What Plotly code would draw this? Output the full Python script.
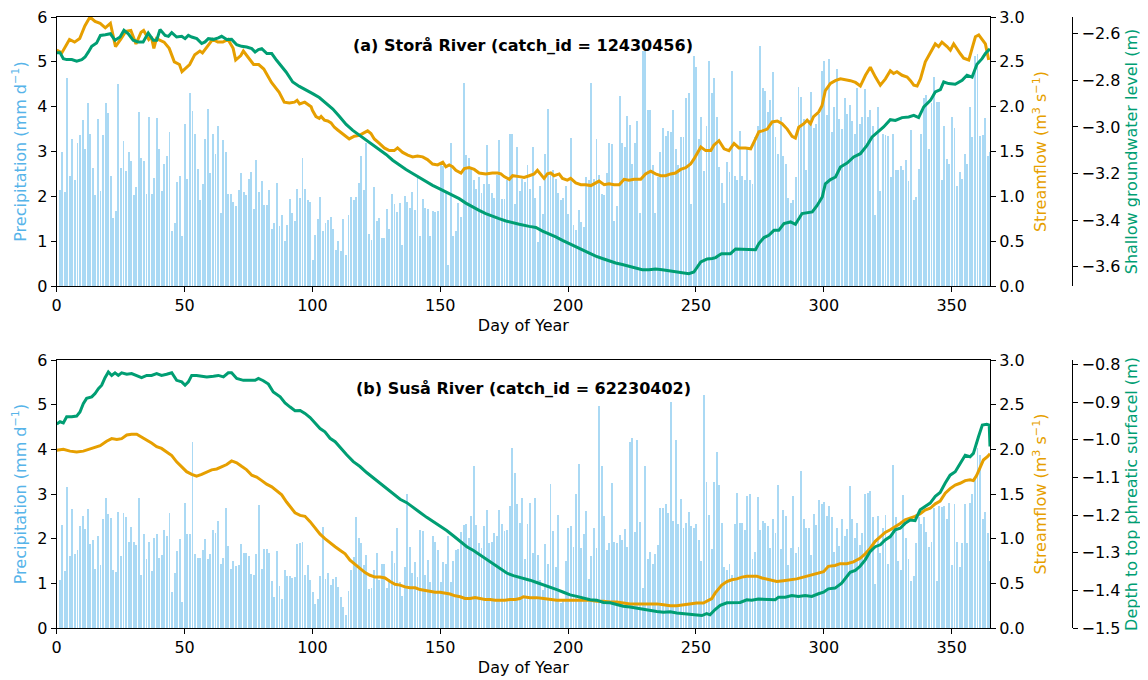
import plotly.graph_objects as go

# ---------------- data ----------------
precip_a = [
    2.15, 3.0, 2.1, 4.65, 2.45, 3.28, 2.37, 3.18, 3.37, 3.7,
    3.05, 4.08, 3.4, 2.63, 2.02, 3.73, 2.12, 3.37, 4.08, 3.86,
    2.45, 1.52, 1.67, 4.5, 2.63, 3.23, 2.57, 3.0, 2.78, 2.03,
    2.2, 3.87, 2.85, 2.78, 2.05, 3.78, 2.05, 2.4, 3.75, 3.05,
    2.12, 2.72, 2.9, 3.43, 1.22, 1.4, 2.33, 2.45, 1.12, 3.62,
    2.38, 4.3, 3.9, 3.4, 2.62, 1.92, 2.28, 3.28, 3.95, 2.52,
    3.4, 2.95, 3.58, 1.62, 3.25, 3.0, 2.05, 2.05, 1.87, 1.78,
    2.15, 2.52, 2.1, 2.02, 2.38, 2.55, 1.72, 2.8, 2.1, 2.35,
    1.8, 1.8, 2.15, 1.27, 1.4, 2.3, 1.33,
    1.58, 1.0, 1.37, 1.93, 1.63, 1.44, 2.17, 1.97, 2.85, 2.17,
    1.91, 1.88, 0.57, 1.13, 1.49, 1.98, 1.22, 1.41, 1.48, 1.55,
    1.28, 0.81, 1.0, 0.78, 1.49, 0.7, 1.59, 1.98, 1.91, 1.98,
    2.29, 2.9, 2.14, 3.2, 1.17, 1.03, 2.2, 1.44, 1.52, 1.06,
    1.06, 1.72, 1.28, 2.05, 1.83, 1.66, 1.85, 0.91, 2.01, 1.88,
    1.75, 2.1, 1.69, 2.42, 1.11, 1.94, 1.74, 1.71, 1.11, 1.67,
    1.65, 1.67, 2.72, 2.67, 2.07, 0.46, 3.2, 1.12, 1.22, 1.85,
    1.53, 4.52, 2.92, 2.85, 2.62, 2.36, 2.17, 2.44, 2.08, 2.28,
    3.14, 2.28, 2.07, 1.96, 2.48, 3.26, 1.93, 1.95, 2.36,
    3.38, 3.38,
    1.84, 3.09, 2.13, 2.39, 2.32, 2.71, 2.17, 3.09, 1.96, 0.98,
    2.24, 1.61, 2.95, 3.94, 2.47, 2.58, 2.39, 2.07, 1.91, 1.96,
    2.24, 1.61, 3.3, 1.35, 1.26, 1.69, 1.43, 1.31, 2.43, 2.36,
    4.53, 2.39, 3.29, 2.47, 2.06, 2.03, 2.51, 3.2, 3.16, 1.46,
    1.78, 4.23, 3.2, 3.09, 3.8, 3.6, 2.73, 3.2, 3.69, 1.63,
    5.24, 5.24, 3.92, 3.92, 2.71, 1.63, 2.43, 2.99, 3.52, 3.35,
    3.46, 3.44, 3.93, 3.06, 2.71, 3.32, 3.32, 4.19, 4.31, 1.84,
    5.14, 4.88, 3.29, 3.76, 2.57, 3.58, 5.02, 4.31, 4.63, 3.76,
    2.65, 2.3, 1.86, 2.77, 2.54, 4.8, 2.45, 2.37, 3.45, 2.46,
    2.37, 3.11,
    2.37, 2.28, 3.32, 3.58, 5.35, 4.42, 4.36, 3.88, 4.14, 4.77,
    3.32, 2.95, 3.78, 2.9, 2.73, 1.97, 1.85, 1.91, 2.43, 4.44,
    4.22, 3.73, 2.58, 3.7, 4.33, 3.53, 3.62, 3.84, 4.79, 5.01,
    3.82, 5.07, 3.43, 3.99, 4.85, 3.73, 3.51, 4.2, 3.83, 4.04,
    3.68, 3.38, 4.42, 3.62, 3.76, 4.4, 3.77, 3.93, 3.57, 1.58,
    3.99, 2.11, 3.38, 3.36, 3.34, 2.43, 3.4, 2.58, 2.58, 2.67,
    2.58, 2.82, 2.34, 3.47, 1.91, 1.98, 2.6, 3.38, 4.2, 4.25,
    3.06, 4.08, 4.66, 4.1, 4.1, 2.36, 3.57, 2.84, 2.73, 3.77,
    3.53, 2.22, 2.54, 2.39, 2.95, 2.73, 3.99, 3.32, 5.14, 5.18,
    3.34, 3.36, 3.75, 2.89,
    3.0,
]

precip_b = [
    1.08, 2.3, 1.28, 3.16, 1.61, 2.66, 1.66, 1.75, 2.28, 2.51,
    2.21, 2.66, 1.89, 1.97, 1.32, 2.07, 1.4, 2.44, 2.92, 2.55,
    2.47, 1.3, 1.25, 2.6, 1.62, 2.58, 2.48, 1.93, 2.27, 1.92,
    1.86, 2.92, 1.19, 2.1, 1.55, 1.93, 1.28, 2.02, 2.1, 1.56,
    1.64, 2.19, 2.06, 2.57, 0.8, 1.24, 1.73, 2.0, 0.59, 2.79,
    2.11, 2.1, 4.16, 1.66, 1.56, 1.56, 1.75, 1.99, 1.54, 1.66,
    2.19, 2.13, 2.4, 1.43, 1.56, 2.69, 1.84, 1.32, 1.49, 1.38,
    1.4, 1.87, 1.69, 1.69, 1.61, 1.21, 1.19, 1.66, 2.75, 1.32,
    1.77, 1.77, 1.69, 1.06, 0.69, 1.72, 0.94,
    0.65, 1.29, 1.17, 1.17, 1.13, 1.15, 1.88, 1.91, 1.93, 1.19,
    1.41, 1.08, 0.8, 0.54, 0.65, 1.17, 2.27, 1.1, 1.24, 0.97,
    1.1, 1.15, 0.91, 0.69, 0.46, 0.3, 0.83, 1.29, 1.58, 2.49,
    2.01, 1.9, 1.41, 1.64, 0.87, 0.89, 1.29, 1.67, 1.08, 1.43,
    1.43, 0.89, 1.1, 1.72, 1.46, 2.25, 1.02, 0.72, 1.36, 3.01,
    1.81, 1.24, 1.47, 1.15, 2.19, 2.17, 1.19, 1.52, 1.02, 2.06,
    1.93, 1.75, 1.02, 1.47, 1.43, 2.07, 1.02, 1.5, 1.75, 1.76,
    2.16, 2.3, 2.32, 2.01, 2.51, 3.62, 2.3, 1.9, 1.78, 2.28,
    2.64, 1.91, 1.93, 2.13, 2.07, 2.64, 2.32, 2.18, 2.19, 2.74,
    4.04, 3.46, 2.77, 2.34,
    2.92, 1.54, 2.32, 2.8, 1.67, 2.9, 1.64, 1.08, 0.86, 1.88,
    1.43, 3.23, 2.17, 1.36, 2.53, 0.56, 0.63, 1.5, 2.23, 2.28,
    1.81, 3.01, 3.68, 1.8, 2.1, 2.62, 1.1, 1.61, 2.23, 1.78,
    4.96, 3.62, 2.51, 1.75, 1.91, 3.25, 1.93, 1.91, 2.08, 1.97,
    2.22, 1.81, 4.16, 4.26, 2.14, 4.22, 2.38, 0.89, 3.62, 1.54,
    1.71, 1.43, 1.66, 1.86, 2.68, 2.68, 2.77, 2.57, 5.06, 2.4,
    4.2, 2.32, 2.88, 2.25, 2.36, 2.6, 2.28, 2.23, 2.33, 1.97,
    1.49, 5.22, 3.26, 2.53, 1.76, 3.26, 3.93, 3.2, 2.36, 1.36,
    1.29, 1.43, 1.19, 2.33, 3.03, 2.36, 2.36, 2.19, 2.95, 3.01,
    1.54, 1.7, 2.94, 2.19, 2.4, 2.36, 2.29, 1.8, 2.44, 2.12,
    3.21, 1.77, 2.64, 2.51, 1.4, 1.8, 2.95, 1.69, 1.81, 3.51,
    2.44, 2.23, 2.23, 1.64, 2.55, 2.3, 2.86, 2.77, 2.83, 2.51,
    2.74, 2.48, 1.71, 2.23, 1.84, 2.43, 2.06, 2.21, 3.17, 2.44,
    2.01, 2.34, 1.86, 2.13, 2.99, 3.03, 3.06, 2.48, 0.98, 2.51,
    1.67, 2.23, 2.53, 1.43, 2.08, 3.66, 2.49, 1.49, 1.3, 2.97,
    2.02, 1.54, 1.06, 1.17, 1.91, 2.49, 2.32, 2.49, 2.16, 1.82,
    1.93, 2.69, 1.06, 2.74, 2.71, 2.74, 2.45, 2.79, 1.4, 2.77,
    1.93, 1.36, 1.91, 2.77, 1.9, 2.79, 3.01, 3.37, 4.04, 3.87,
    2.45, 2.6, 2.12, 1.5,
]

days_a = list(range(1, len(precip_a) + 1))
days_b = list(range(1, len(precip_b) + 1))

# Streamflow, Storå (day, m3/s)
flow_a_day = [0, 2, 5, 7, 9, 11, 13, 15, 17, 19, 21, 23, 25, 27, 29, 31, 33, 34, 36, 37, 38, 39, 42, 44, 46, 48, 49,
              52, 54, 56, 57, 59, 61, 63, 65, 67, 69, 70, 72, 73, 75, 77, 79, 81, 82, 84, 87, 89, 91, 93, 94, 95, 97,
              98, 99.5, 100, 101.4, 102.7, 103.4, 104.7, 106, 107.3, 108.6, 109.9, 111.2, 113.1, 114.4, 116.4, 118.4,
              120.3, 121.6, 122.9, 124.2, 126.2, 128.1, 130.1, 132, 133.3, 135.3, 137.3, 139.2, 141.1, 143.1, 145, 147,
              149, 151, 152.2, 153.5, 154.8, 156.1, 158.1, 159.4, 161.3, 163.3, 165.2, 167.8, 170.4, 172.4, 173.7, 175,
              177, 178.3, 180.9, 182.8, 184.8, 186.7, 188, 189.3, 190.6, 191.9, 193.2, 194.5, 196.5, 197.8, 199.7, 201,
              203, 205, 206.9, 208.9, 210.2, 212.1, 214.1, 216, 218, 220, 221.9, 223.8, 225.8, 228.4, 230.3, 232.3,
              234.2, 236.2, 238.1, 240.1, 242, 244, 246, 247.9, 249.3, 250.6, 251.9, 253.8, 255.8, 257, 259, 261,
              262.9, 264.9, 266.8, 269.4, 271.4, 273.3, 274.6, 276, 277.9, 279.8, 281.8, 283.7, 285.7, 287.6, 288.9,
              290.2, 292.2, 293.5, 294.8, 296, 298, 299.3, 300.6, 302.6, 304.5, 306.5, 308.4, 310.4, 312.4, 314.3,
              316.3, 318.2, 320.2, 322.1, 324.1, 326, 327.3, 328.6, 330.6, 332.6, 333.9, 335.2, 336.5, 337.8, 339.7,
              341.7, 343.6, 344.9, 346.2, 348.2, 349.5, 350.8, 352.1, 353.4, 354.7, 356.7, 358, 359.3, 360.6, 361.9,
              363.2, 364.5]
flow_a_val = [2.63, 2.6, 2.75, 2.72, 2.76, 2.9, 3.0, 2.95, 2.93, 2.88, 2.93, 2.67, 2.75, 2.84, 2.85, 2.7, 2.83, 2.85,
              2.75, 2.78, 2.65, 2.76, 2.72, 2.65, 2.5, 2.47, 2.39, 2.47, 2.58, 2.62, 2.6, 2.67, 2.75, 2.72, 2.72, 2.75,
              2.65, 2.52, 2.57, 2.62, 2.55, 2.47, 2.47, 2.42, 2.37, 2.27, 2.16, 2.05, 2.04, 2.05, 2.07, 2.03, 2.05,
              2.03, 2.0, 1.96, 1.89, 1.87, 1.89, 1.85, 1.84, 1.82, 1.77, 1.74, 1.71, 1.67, 1.64, 1.67, 1.68, 1.71,
              1.73, 1.7, 1.64, 1.59, 1.54, 1.51, 1.51, 1.54, 1.49, 1.46, 1.44, 1.45, 1.44, 1.41, 1.36, 1.35, 1.38,
              1.33, 1.35, 1.33, 1.29, 1.26, 1.31, 1.32, 1.3, 1.26, 1.25, 1.26, 1.26, 1.25, 1.22, 1.19, 1.23, 1.22,
              1.21, 1.23, 1.25, 1.29, 1.25, 1.2, 1.25, 1.26, 1.23, 1.25, 1.2, 1.18, 1.2, 1.15, 1.13, 1.13, 1.12, 1.14,
              1.17, 1.13, 1.14, 1.13, 1.13, 1.19, 1.18, 1.19, 1.19, 1.25, 1.28, 1.25, 1.23, 1.23, 1.25, 1.26, 1.3,
              1.32, 1.36, 1.42, 1.49, 1.55, 1.51, 1.51, 1.57, 1.62, 1.53, 1.51, 1.59, 1.54, 1.54, 1.53, 1.64, 1.72,
              1.73, 1.75, 1.83, 1.84, 1.81, 1.75, 1.67, 1.65, 1.77, 1.81, 1.85, 1.81, 1.89, 1.94, 2.01, 2.18, 2.26,
              2.29, 2.31, 2.3, 2.29, 2.27, 2.23, 2.35, 2.44, 2.33, 2.24, 2.31, 2.4, 2.37, 2.39, 2.35, 2.33, 2.29,
              2.24, 2.23, 2.31, 2.5, 2.61, 2.7, 2.67, 2.72, 2.67, 2.63, 2.7, 2.64, 2.59, 2.54, 2.52, 2.65, 2.78,
              2.8, 2.75, 2.7, 2.52]

# Shallow groundwater level, Storå (day, m)
gw_a_day = [0, 1.3, 2.6, 3.9, 5.9, 7.8, 9.8, 11.1, 12.4, 13.7, 15.6, 17.1, 19, 21, 22.8, 24.8, 26.3, 28, 29.9, 31.8,
            33.8, 35.8, 37.8, 39.1, 40.4, 42.4, 43.7, 45, 46.9, 48.9, 50.2, 51.5, 52.8, 54.8, 56.7, 58, 59.3, 61.3,
            63.2, 64.5, 66.5, 68.4, 70.4, 72.3, 74.3, 76.3, 77.6, 78.9, 80.2, 82.2, 84.1, 86, 89.7, 92.3, 94.9, 97.5,
            100.1, 102.7, 105.3, 108, 110.5, 113.2, 115.8, 118.4, 121, 123.6, 126.2, 128.8, 131.4, 134, 136.6, 139.2,
            141.8, 144.4, 147, 149.6, 152.2, 154.8, 157.4, 160, 162.6, 165.2, 167.8, 170.4, 173, 175.7, 178.3, 180.9,
            184.8, 187.4, 190, 192.6, 195.2, 197.8, 200.4, 203, 205.6, 208.2, 210.8, 213.4, 216, 218.6, 221.2, 223.8,
            226.4, 229, 231.6, 234.2, 236.8, 239.4, 242, 244.6, 247.2, 249.2, 250.6, 251.9, 253.2, 254.4, 256.4,
            257.7, 259, 260, 263.5, 265.5, 268, 270.7, 273.3, 274.6, 276.6, 278.5, 280.5, 282.4, 284.4, 287, 288.9,
            291.5, 293.5, 295.5, 297.4, 299.4, 300.6, 302.6, 304.6, 306.5, 309.1, 311.7, 314.3, 316.9, 318.9, 320.8,
            323.4, 326, 328, 330.6, 333.2, 335.2, 337.1, 339.1, 341.7, 343.6, 345.6, 346.9, 348.8, 351.4, 354.1, 356,
            358, 359.9, 361.9, 363.2, 364.5, 365]
gw_a_val = [-2.681, -2.681, -2.707, -2.711, -2.711, -2.718, -2.711, -2.7, -2.678, -2.654, -2.64, -2.607, -2.604, -2.6,
            -2.628, -2.614, -2.585, -2.6, -2.628, -2.635, -2.635, -2.597, -2.628, -2.628, -2.582, -2.607, -2.611,
            -2.595, -2.614, -2.611, -2.621, -2.607, -2.614, -2.621, -2.642, -2.635, -2.621, -2.624, -2.618, -2.611,
            -2.625, -2.624, -2.647, -2.654, -2.657, -2.664, -2.678, -2.668, -2.664, -2.685, -2.685, -2.714, -2.764,
            -2.807, -2.826, -2.84, -2.857, -2.874, -2.897, -2.923, -2.954, -2.989, -3.015, -3.036, -3.058, -3.075,
            -3.098, -3.118, -3.143, -3.165, -3.183, -3.2, -3.218, -3.236, -3.251, -3.265, -3.279, -3.294, -3.308,
            -3.327, -3.344, -3.358, -3.372, -3.384, -3.394, -3.404, -3.412, -3.418, -3.427, -3.432, -3.447, -3.458,
            -3.472, -3.487, -3.501, -3.515, -3.53, -3.544, -3.555, -3.565, -3.575, -3.584, -3.591, -3.598, -3.604,
            -3.613, -3.613, -3.61, -3.613, -3.618, -3.623, -3.627, -3.63, -3.623, -3.601, -3.58, -3.573, -3.567,
            -3.565, -3.561, -3.551, -3.544, -3.544, -3.524, -3.525, -3.527, -3.527, -3.501, -3.475, -3.465, -3.444,
            -3.444, -3.415, -3.408, -3.418, -3.372, -3.369, -3.365, -3.337, -3.301, -3.244, -3.226, -3.215, -3.172,
            -3.155, -3.129, -3.115, -3.079, -3.043, -3.026, -3.0, -2.969, -2.972, -2.96, -2.957, -2.95, -2.96, -2.914,
            -2.886, -2.85, -2.84, -2.807, -2.814, -2.817, -2.8, -2.778, -2.786, -2.731, -2.707, -2.685, -2.671, -2.665]

# Streamflow, Suså (day, m3/s)
flow_b_day = [0, 2.6, 5.2, 7.8, 10.4, 12.4, 14.3, 17, 19.5, 21.5, 23.5, 25.4, 27.4, 29.3, 31.3, 33.2, 35.2, 37.1, 39.1,
              41, 43, 45, 46.9, 48.9, 50.8, 52.8, 54.7, 56.7, 58.7, 60.6, 62.6, 64.5, 66.5, 68.4, 70.4, 72.3, 74.3,
              76.3, 78.2, 80.2, 82.1, 84.1, 86, 88, 89.9, 91.3, 93.2, 95.2, 97.1, 99.1, 101, 103, 104.9, 106.9, 108.9,
              110.8, 112.8, 114.7, 116.7, 118.6, 120.6, 122.5, 124.5, 126.5, 128.4, 130.4, 132.3, 134.3, 136.2, 138.2,
              140.2, 142.1, 144.1, 146, 148, 149.9, 151.9, 153.8, 155.8, 157.8, 159.7, 161.7, 163.6, 165.6, 167.5,
              169.5, 171.5, 173.4, 175.3, 177.3, 179.3, 181.2, 182.5, 185.1, 187.7, 190.4, 193, 195.6, 198.2, 200.8,
              203.4, 206, 208.6, 211.2, 213.8, 216.4, 219, 221.6, 224.2, 226.8, 229.5, 232.1, 234.7, 237.3, 239.9,
              242.5, 245.1, 247.7, 250.3, 252.9, 254.9, 256.2, 257.5, 258.8, 260.1, 262.1, 264, 266, 268, 269.9,
              271.8, 273.8, 275.8, 278.4, 281.6, 284.2, 286.8, 289.4, 292, 294.6, 297.3, 299.9, 301.8, 304.4, 306.4,
              309, 311.6, 314.2, 316.2, 318.1, 320.1, 322.1, 324, 326, 327.9, 329.9, 331.8, 333.8, 335.7, 337.7, 339.6,
              341.6, 343.6, 345.5, 347.5, 349.4, 351.4, 353.3, 355.3, 357.2, 358.5, 359.8, 361.1, 362.4, 364.1, 365]
flow_b_val = [1.99, 2.0, 1.98, 1.97, 1.98, 2.0, 2.02, 2.04, 2.09, 2.12, 2.11, 2.12, 2.16, 2.17, 2.17, 2.14, 2.1, 2.07,
              2.03, 2.01, 1.97, 1.93, 1.86, 1.8, 1.75, 1.72, 1.7, 1.72, 1.75, 1.77, 1.78, 1.8, 1.83, 1.87, 1.85, 1.81,
              1.77, 1.71, 1.69, 1.65, 1.61, 1.58, 1.54, 1.49, 1.41, 1.36, 1.29, 1.26, 1.25, 1.19, 1.12, 1.05, 1.0,
              0.96, 0.91, 0.87, 0.83, 0.76, 0.71, 0.66, 0.62, 0.59, 0.57, 0.57, 0.56, 0.52, 0.49, 0.48, 0.46, 0.45,
              0.45, 0.43, 0.42, 0.41, 0.4, 0.4, 0.39, 0.38, 0.36, 0.35, 0.33, 0.33, 0.34, 0.33, 0.32, 0.32, 0.31,
              0.31, 0.31, 0.32, 0.32, 0.33, 0.35, 0.34, 0.34, 0.33, 0.32, 0.31, 0.31, 0.31, 0.31, 0.31, 0.31, 0.3,
              0.3, 0.29, 0.29, 0.28, 0.27, 0.27, 0.27, 0.27, 0.27, 0.26, 0.25, 0.25, 0.26, 0.27, 0.28, 0.28, 0.31,
              0.33, 0.39, 0.43, 0.48, 0.52, 0.54, 0.55, 0.57, 0.58, 0.58, 0.58, 0.56, 0.54, 0.52, 0.53, 0.54, 0.55,
              0.57, 0.59, 0.61, 0.63, 0.69, 0.7, 0.72, 0.72, 0.74, 0.78, 0.83, 0.89, 0.97, 1.02, 1.07, 1.1, 1.13, 1.17,
              1.21, 1.23, 1.25, 1.28, 1.32, 1.34, 1.39, 1.42, 1.51, 1.56, 1.6, 1.62, 1.65, 1.66, 1.65, 1.71, 1.8, 1.88,
              1.92, 1.95]

# Depth to top phreatic surface, Suså (day, m)
gw_b_day = [0, 1.3, 2.6, 3.9, 5.9, 7.8, 9.1, 10.4, 11.7, 13.7, 15, 16.3, 17.6, 18.9, 20.2, 21.5, 22.8, 24.1, 25.4,
            27.4, 29.3, 31.3, 33.2, 35.2, 37.1, 39.1, 41, 43, 45, 46.9, 48.9, 50.2, 51.5, 52.8, 54.7, 56.7, 58.7,
            61.3, 63.2, 65.2, 67.1, 68.4, 70.4, 73, 75.6, 77.6, 78.9, 80.8, 82.8, 84.7, 87.4, 89.3, 91.3, 93.2, 95.2,
            97.1, 99.1, 101, 103, 104.9, 106.9, 108.9, 110.8, 113.4, 116, 118.6, 121.2, 123.9, 126.5, 129.1, 131.7,
            134.3, 136.9, 139.5, 142.1, 144.7, 147.3, 149.9, 152.5, 155.1, 157.8, 160.4, 163, 165.6, 168.2, 170.8,
            173.4, 176, 178.6, 181.2, 182.5, 185.1, 187.7, 190.4, 193, 195.6, 198.2, 200.8, 203.4, 206, 208.6, 211.2,
            213.8, 216.4, 219, 221.6, 224.2, 226.8, 229.5, 232.1, 234.7, 237.3, 239.9, 242.5, 245.1, 247.7, 250.3,
            252.3, 254.2, 255.5, 257.5, 259.5, 262.1, 264.7, 267.3, 269.9, 271.8, 274.4, 277, 281, 282.3, 284.9,
            287.5, 290.1, 292.7, 295.3, 297.9, 299.9, 301.8, 304.4, 307, 309, 310.3, 312.3, 314.2, 316.2, 318.1,
            320.1, 322.1, 324, 326, 327.9, 329.9, 331.8, 333.8, 335.7, 337.7, 339.6, 341.6, 343.6, 345.5, 347.5,
            349.4, 351.4, 353.3, 355.3, 357.2, 358.5, 360.5, 362, 363.7, 364.7, 365]
gw_b_val = [-0.958, -0.952, -0.955, -0.939, -0.939, -0.937, -0.926, -0.904, -0.89, -0.886, -0.877, -0.864, -0.855,
            -0.835, -0.82, -0.829, -0.822, -0.829, -0.822, -0.826, -0.824, -0.829, -0.835, -0.829, -0.829, -0.824,
            -0.829, -0.826, -0.822, -0.842, -0.846, -0.855, -0.846, -0.829, -0.829, -0.831, -0.833, -0.831, -0.829,
            -0.833, -0.822, -0.822, -0.837, -0.842, -0.843, -0.842, -0.837, -0.843, -0.852, -0.873, -0.886, -0.902,
            -0.913, -0.923, -0.922, -0.93, -0.941, -0.955, -0.97, -0.979, -0.996, -1.005, -1.02, -1.04, -1.058,
            -1.071, -1.087, -1.102, -1.117, -1.131, -1.144, -1.158, -1.167, -1.179, -1.193, -1.206, -1.217, -1.229,
            -1.241, -1.255, -1.27, -1.284, -1.294, -1.306, -1.317, -1.33, -1.341, -1.354, -1.361, -1.365, -1.367,
            -1.373, -1.379, -1.385, -1.391, -1.398, -1.405, -1.412, -1.416, -1.42, -1.425, -1.426, -1.432, -1.433,
            -1.438, -1.442, -1.444, -1.447, -1.451, -1.453, -1.456, -1.458, -1.457, -1.46, -1.462, -1.465, -1.467,
            -1.467, -1.462, -1.465, -1.451, -1.44, -1.433, -1.433, -1.432, -1.425, -1.426, -1.423, -1.423, -1.425,
            -1.418, -1.418, -1.414, -1.416, -1.414, -1.416, -1.409, -1.405, -1.396, -1.394, -1.381, -1.363, -1.352,
            -1.347, -1.336, -1.319, -1.297, -1.284, -1.279, -1.266, -1.257, -1.239, -1.235, -1.222, -1.213, -1.215,
            -1.186, -1.177, -1.168, -1.15, -1.14, -1.115, -1.094, -1.085, -1.063, -1.041, -1.045, -1.036, -0.992,
            -0.961, -0.959, -0.961, -1.018]

titles = ["(a) Storå River (catch_id = 12430456)", "(b) Suså River (catch_id = 62230402)"]
gw_titles = ["Shallow groundwater level (m)", "Depth to top phreatic surfacel (m)"]
x_ticks = [0, 50, 100, 150, 200, 250, 300, 350]
gw_ticks_a = [-3.6, -3.4, -3.2, -3.0, -2.8, -2.6]
gw_ticks_b = [-1.5, -1.4, -1.3, -1.2, -1.1, -1.0, -0.9, -0.8]

# ---------------- style ----------------
# page body keeps the browser's default 8 px margin, so the figure is
# sized to fill the rest of the 1148x680 window
OFF = 8
W, H = 1148 - OFF, 680 - OFF
BLUE = "#56B4E9"
BAR = "rgba(86,180,233,0.5)"
ORANGE = "#E69F00"
GREEN = "#009E73"
FONT = "DejaVu Sans"
FS = 16


def px_x(s):
    return (s - OFF) / W


def px_y(s):
    return 1 - (s - OFF) / H


XD = [px_x(56.7), px_x(990)]
YDA = [px_y(286), px_y(17)]
YDB = [px_y(628), px_y(360)]
GW_POS = px_x(1072.3)

fig = go.Figure()
panels = [
    (days_a, precip_a, flow_a_day, flow_a_val, gw_a_day, gw_a_val, "x", "y", "y2", "y3"),
    (days_b, precip_b, flow_b_day, flow_b_val, gw_b_day, gw_b_val, "x2", "y4", "y5", "y6"),
]
for d, p, fd, fv, gd, gv, xa, ya, yb, yc in panels:
    fig.add_trace(go.Bar(x=d, y=p, width=0.75, marker=dict(color=BAR, line=dict(width=0)),
                         xaxis=xa, yaxis=ya, showlegend=False, hoverinfo="skip"))
    fig.add_trace(go.Scatter(x=fd, y=fv, mode="lines", line=dict(color=ORANGE, width=3),
                             xaxis=xa, yaxis=yb, showlegend=False))
    fig.add_trace(go.Scatter(x=gd, y=gv, mode="lines", line=dict(color=GREEN, width=3),
                             xaxis=xa, yaxis=yc, showlegend=False))

common = dict(showline=True, linecolor="black", linewidth=1, ticks="outside", ticklen=5, tickwidth=1,
              tickcolor="black", showgrid=False, zeroline=False, automargin=False,
              ticklabeloverflow="allow",
              tickfont=dict(family=FONT, size=FS, color="black"))


def xax(anchor):
    return dict(common, domain=XD, range=[0, 365], anchor=anchor, tickvals=x_ticks, mirror=True,
                title=dict(text="Day of Year", font=dict(family=FONT, size=FS, color="black"), standoff=5))


def yleft(dom, anchor):
    return dict(common, domain=dom, range=[0, 6], dtick=1, anchor=anchor,
                title=dict(text="Precipitation (mm d<sup>−1</sup>)", font=dict(family=FONT, size=FS, color=BLUE),
                           standoff=6))


def yright(over, anchor):
    return dict(common, overlaying=over, side="right", anchor=anchor, range=[0, 3], dtick=0.5, tickformat=".1f",
                title=dict(text="Streamflow (m<sup>3</sup> s<sup>−1</sup>)", font=dict(family=FONT, size=FS, color=ORANGE),
                           standoff=11))


def ygw(over, rng, ticks, title):
    return dict(common, overlaying=over, side="right", anchor="free", position=GW_POS, range=rng,
                tickvals=ticks, tickformat=".1f",
                title=dict(text=title, font=dict(family=FONT, size=FS, color=GREEN), standoff=6))


fig.update_layout(
    width=W, height=H, margin=dict(l=0, r=0, t=0, b=0, autoexpand=False),
    paper_bgcolor="white", plot_bgcolor="white",
    font=dict(family=FONT, size=FS, color="black"),
    bargap=0, showlegend=False,
    xaxis=xax("y"),
    yaxis=yleft(YDA, "x"),
    yaxis2=yright("y", "x"),
    yaxis3=ygw("y", [-3.683, -2.528], gw_ticks_a, gw_titles[0]),
    xaxis2=xax("y4"),
    yaxis4=yleft(YDB, "x2"),
    yaxis5=yright("y4", "x2"),
    yaxis6=ygw("y4", [-1.5, -0.788], gw_ticks_b, gw_titles[1]),
)

for i, (xr, yr) in enumerate([("x", "y"), ("x2", "y4")]):
    fig.add_annotation(text="<b>" + titles[i] + "</b>", xref=xr + " domain", yref=yr + " domain",
                       x=0.5, y=0.895, xanchor="center", yanchor="middle", showarrow=False,
                       font=dict(family=FONT, size=16, color="black"))

fig.write_html("out.html")
